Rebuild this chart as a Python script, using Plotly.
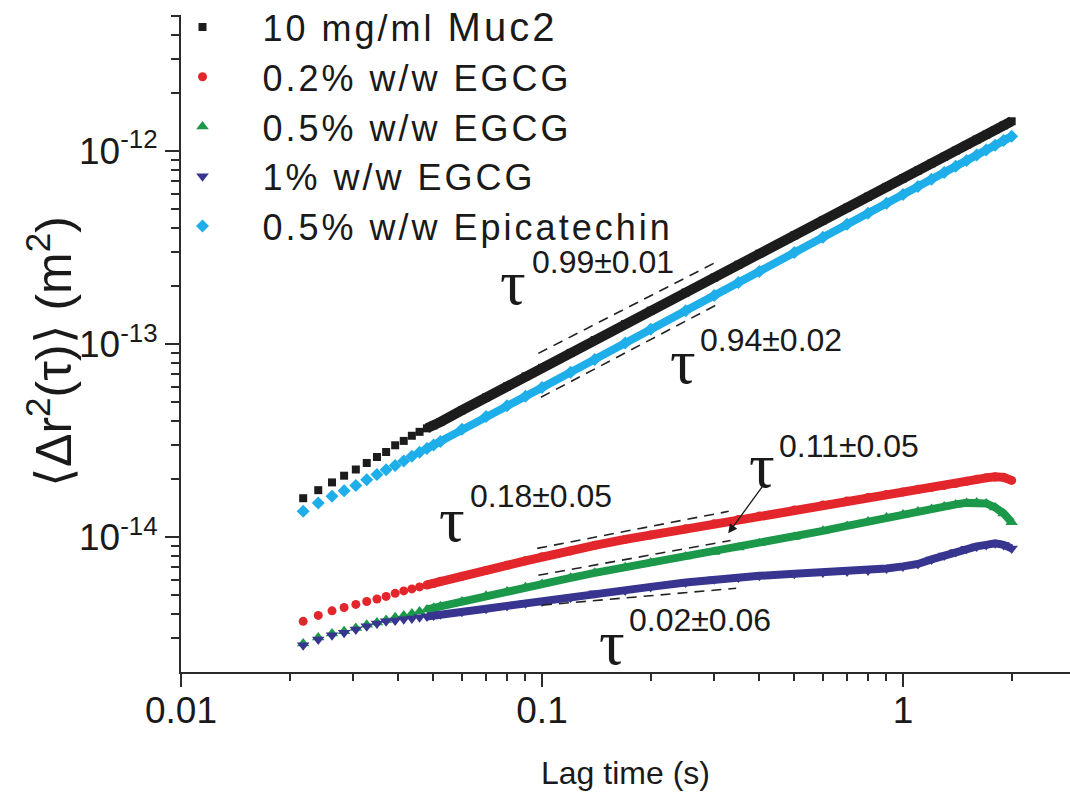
import math
import plotly.graph_objects as go

# ---------------- data ----------------
lag_time = [0.0218, 0.0240, 0.0262, 0.0283, 0.0305, 0.0327, 0.0349, 0.0370, 0.0392, 0.0414,
            0.0436, 0.0458, 0.0480, 0.0501, 0.0523, 0.06, 0.07, 0.08, 0.09, 0.10,
            0.12, 0.14, 0.17, 0.20, 0.25, 0.30, 0.35, 0.40, 0.50, 0.60,
            0.70, 0.80, 0.90, 1.0, 1.1, 1.2, 1.3, 1.4, 1.5, 1.6,
            1.7, 1.8, 1.9, 2.0]

muc2 = [1.59e-14, 1.75e-14, 1.92e-14, 2.08e-14, 2.24e-14, 2.42e-14, 2.60e-14, 2.76e-14, 2.99e-14, 3.15e-14,
        3.35e-14, 3.51e-14, 3.66e-14, 3.79e-14, 3.95e-14, 4.54e-14, 5.29e-14, 6.04e-14, 6.80e-14, 7.53e-14,
        9.00e-14, 1.05e-13, 1.27e-13, 1.49e-13, 1.85e-13, 2.21e-13, 2.58e-13, 2.94e-13, 3.66e-13, 4.37e-13,
        5.09e-13, 5.80e-13, 6.52e-13, 7.22e-13, 7.93e-13, 8.64e-13, 9.34e-13, 1.005e-12, 1.075e-12, 1.146e-12,
        1.216e-12, 1.286e-12, 1.357e-12, 1.427e-12]

egcg_02 = [3.66e-15, 3.93e-15, 4.15e-15, 4.32e-15, 4.48e-15, 4.64e-15, 4.78e-15, 4.93e-15, 5.11e-15, 5.26e-15,
           5.39e-15, 5.52e-15, 5.65e-15, 5.75e-15, 5.90e-15, 6.26e-15, 6.72e-15, 7.14e-15, 7.53e-15, 7.90e-15,
           8.48e-15, 9.06e-15, 9.73e-15, 1.026e-14, 1.103e-14, 1.171e-14, 1.235e-14, 1.288e-14, 1.383e-14, 1.468e-14,
           1.540e-14, 1.606e-14, 1.664e-14, 1.715e-14, 1.767e-14, 1.809e-14, 1.853e-14, 1.898e-14, 1.944e-14, 1.991e-14,
           2.027e-14, 2.051e-14, 2.039e-14, 1.967e-14]

egcg_05 = [2.81e-15, 3.02e-15, 3.17e-15, 3.25e-15, 3.38e-15, 3.51e-15, 3.61e-15, 3.72e-15, 3.84e-15, 3.93e-15,
           4.02e-15, 4.12e-15, 4.22e-15, 4.30e-15, 4.38e-15, 4.64e-15, 4.96e-15, 5.23e-15, 5.49e-15, 5.72e-15,
           6.15e-15, 6.53e-15, 6.97e-15, 7.39e-15, 7.94e-15, 8.38e-15, 8.84e-15, 9.28e-15, 1.002e-14, 1.077e-14,
           1.143e-14, 1.206e-14, 1.265e-14, 1.311e-14, 1.359e-14, 1.400e-14, 1.442e-14, 1.477e-14, 1.504e-14, 1.513e-14,
           1.495e-14, 1.425e-14, 1.327e-14, 1.192e-14]

egcg_1 = [2.75e-15, 2.95e-15, 3.10e-15, 3.19e-15, 3.32e-15, 3.45e-15, 3.57e-15, 3.66e-15, 3.70e-15, 3.75e-15,
          3.79e-15, 3.84e-15, 3.88e-15, 3.93e-15, 3.98e-15, 4.10e-15, 4.25e-15, 4.40e-15, 4.54e-15, 4.64e-15,
          4.87e-15, 5.11e-15, 5.29e-15, 5.52e-15, 5.82e-15, 6.04e-15, 6.18e-15, 6.30e-15, 6.45e-15, 6.56e-15,
          6.64e-15, 6.72e-15, 6.88e-15, 7.05e-15, 7.26e-15, 7.66e-15, 8.04e-15, 8.38e-15, 8.69e-15, 8.95e-15,
          9.11e-15, 9.28e-15, 9.11e-15, 8.74e-15]

epicatechin_05 = [1.36e-14, 1.50e-14, 1.63e-14, 1.74e-14, 1.85e-14, 1.98e-14, 2.11e-14, 2.23e-14, 2.35e-14, 2.48e-14,
                  2.62e-14, 2.75e-14, 2.88e-14, 3.00e-14, 3.13e-14, 3.62e-14, 4.21e-14, 4.79e-14, 5.37e-14, 5.95e-14,
                  7.14e-14, 8.33e-14, 1.012e-13, 1.192e-13, 1.488e-13, 1.786e-13, 2.086e-13, 2.380e-13, 2.979e-13, 3.576e-13,
                  4.171e-13, 4.767e-13, 5.364e-13, 5.956e-13, 6.555e-13, 7.152e-13, 7.747e-13, 8.34e-13, 8.94e-13, 9.535e-13,
                  1.013e-12, 1.073e-12, 1.133e-12, 1.192e-12]

series_names = ["10 mg/ml <span style='font-size:40px'>Muc2</span>", "0.2% w/w EGCG", "0.5% w/w EGCG",
                "1% w/w EGCG", "0.5% w/w Epicatechin"]

# power-law guide lines (end points) and their labels
fit_x = {"muc2": [0.0977, 0.299], "epi": [0.0993, 0.302], "e02": [0.097, 0.329],
         "e05": [0.0977, 0.333], "e1": [0.100, 0.345]}
fit_y = {"muc2": [8.95e-14, 2.62e-13], "epi": [5.3e-14, 1.585e-13], "e02": [8.74e-15, 1.36e-14],
         "e05": [6.34e-15, 9.61e-15], "e1": [4.44e-15, 5.43e-15]}
exponent_labels = ["0.99±0.01", "0.94±0.02", "0.18±0.05", "0.11±0.05", "0.02±0.06"]

x_tick_vals = [0.01, 0.1, 1]
x_tick_text = ["0.01", "0.1", "1"]
y_tick_vals = [1e-14, 1e-13, 1e-12]
y_tick_text = ["10<sup>-14</sup>", "10<sup>-13</sup>", "10<sup>-12</sup>"]

# ---------------- styling ----------------
AX = "#2b2b2b"
FONT = "Liberation Sans, Arial, Helvetica, sans-serif"
series = [
    (muc2, "#1c1c1c", "square", 8, 10),
    (egcg_02, "#e3262b", "circle", 9, 9),
    (egcg_05, "#1b9849", "triangle-up", 11, 8),
    (egcg_1, "#37358f", "triangle-down", 11, 8),
    (epicatechin_05, "#1eaeea", "diamond", 10, 8),
]
DENSE_FROM = 12  # markers merge into a continuous band from here on

fig = go.Figure()

for ys, col, sym, msz, lw in series:
    fig.add_trace(go.Scatter(x=lag_time[DENSE_FROM:], y=ys[DENSE_FROM:], mode="lines",
                             line=dict(color=col, width=lw), showlegend=False, hoverinfo="skip"))

for (ys, col, sym, msz, lw), name in zip(series, series_names):
    fig.add_trace(go.Scatter(x=lag_time, y=ys, mode="markers",
                             name="\u00a0" * 4 + "<span style='letter-spacing:3px'>" + name + "</span>",
                             marker=dict(color=col, symbol=sym, size=msz, line=dict(width=0))))

for key in ["muc2", "epi", "e02", "e05", "e1"]:
    fig.add_trace(go.Scatter(x=fit_x[key], y=fit_y[key], mode="lines", showlegend=False,
                             line=dict(color="#222222", width=1.6, dash="10px,7px"), hoverinfo="skip"))

lg = math.log10
# tau labels: (tau centre x, tau centre y, exponent left x, exponent centre y) in data units
tau_pos = [
    (0.0832, 2.09e-13, 0.0928, 2.65e-13),
    (0.2461, 8.13e-14, 0.2710, 1.045e-13),
    (0.0564, 1.235e-14, 0.0625, 1.625e-14),
    (0.4076, 2.35e-14, 0.4485, 2.95e-14),
    (0.1566, 2.85e-15, 0.1722, 3.70e-15),
]
ann = []
for (tx, ty, ex, ey), lab in zip(tau_pos, exponent_labels):
    ann.append(dict(x=lg(tx), y=lg(ty), xref="x", yref="y", text="τ", showarrow=False,
                    xanchor="center", yanchor="middle",
                    font=dict(family="Liberation Serif, DejaVu Serif, serif", size=64, color="#1a1a1a")))
    ann.append(dict(x=lg(ex), y=lg(ey), xref="x", yref="y", text=lab, showarrow=False,
                    xanchor="left", yanchor="middle",
                    font=dict(family=FONT, size=32, color="#1a1a1a")))

ann.append(dict(x=lg(0.328), y=lg(1.046e-14), xref="x", yref="y", ax=lg(0.410), ay=lg(1.852e-14),
                axref="x", ayref="y", text="", showarrow=True, arrowhead=2, arrowsize=1.4,
                arrowwidth=1.3, arrowcolor="#1a1a1a"))

PLOT_TOP = 15
PLOT_BOTTOM = 672
PAPER_H = 672  # height of the paper area (margin b = 120, t = 0)
ann.append(dict(x=0.5, y=-(773 - PLOT_BOTTOM) / PAPER_H, xref="paper", yref="paper", text="Lag time (s)",
                showarrow=False, xanchor="center", yanchor="middle",
                font=dict(family=FONT, size=32, color="#1a1a1a")))
ann.append(dict(x=-131 / 889, y=(PLOT_BOTTOM - 352) / PAPER_H, xref="paper", yref="paper",
                text="⟨Δr<sup>2</sup>(τ)⟩ (m<sup>2</sup>)", textangle=-90, showarrow=False,
                xanchor="center", yanchor="middle", font=dict(family=FONT, size=50, color="#1a1a1a")))

x_minor = [0.02, 0.03, 0.04, 0.05, 0.06, 0.07, 0.08, 0.09,
           0.2, 0.3, 0.4, 0.5, 0.6, 0.7, 0.8, 0.9, 2]
y_minor = [3e-15, 4e-15, 5e-15, 6e-15, 7e-15, 8e-15, 9e-15,
           2e-14, 3e-14, 4e-14, 5e-14, 6e-14, 7e-14, 8e-14, 9e-14,
           2e-13, 3e-13, 4e-13, 5e-13, 6e-13, 7e-13, 8e-13, 9e-13,
           2e-12, 3e-12, 4e-12, 5e-12]

fig.update_layout(
    width=1070, height=792,
    margin=dict(l=181, r=0, t=0, b=120, autoexpand=False),
    paper_bgcolor="white", plot_bgcolor="white",
    font=dict(family=FONT, color="#1a1a1a"),
    annotations=ann,
    legend=dict(x=0.0017, y=1 + 3 / PAPER_H, xanchor="left", yanchor="top", bgcolor="rgba(0,0,0,0)",
                font=dict(family=FONT, size=36, color="#1a1a1a"), itemsizing="trace"),
    xaxis=dict(type="log", range=[-2, 0.4626], showgrid=False, zeroline=False, automargin=False,
               showline=True, linecolor=AX, linewidth=2,
               ticks="outside", ticklen=13, tickwidth=2, tickcolor=AX, ticklabelstandoff=-8,
               tickmode="array", tickvals=x_tick_vals, ticktext=x_tick_text,
               tickfont=dict(family=FONT, size=37, color="#1a1a1a"),
               minor=dict(tickmode="array", tickvals=x_minor, ticks="outside", ticklen=7,
                          tickwidth=2, tickcolor=AX, showgrid=False)),
    yaxis=dict(type="log", range=[lg(2e-15), lg(5.07e-12)], showgrid=False, zeroline=False,
               automargin=False, domain=[0, (PLOT_BOTTOM - PLOT_TOP) / PAPER_H],
               showline=True, linecolor=AX, linewidth=2,
               ticks="outside", ticklen=14, tickwidth=2, tickcolor=AX,
               tickmode="array", tickvals=y_tick_vals, ticktext=y_tick_text,
               tickfont=dict(family=FONT, size=37, color="#1a1a1a"),
               minor=dict(tickmode="array", tickvals=y_minor, ticks="outside", ticklen=8,
                          tickwidth=2, tickcolor=AX, showgrid=False)),
)

# the page's default 8px body margin would shift the figure; remove it
fig.write_html("out.html", config={"displayModeBar": False},
               post_script="document.body.style.margin='0px';")
